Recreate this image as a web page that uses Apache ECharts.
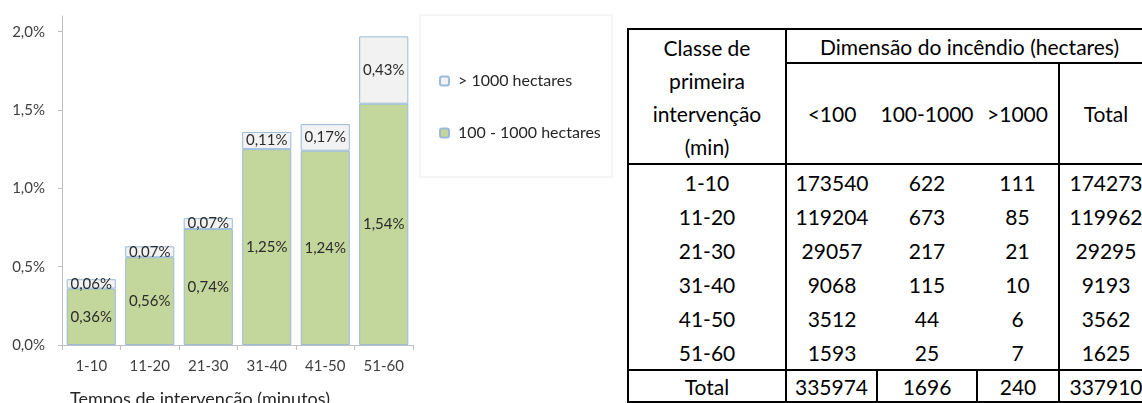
<!DOCTYPE html>
<html>
<head>
<meta charset="utf-8">
<script src="https://cdn.jsdelivr.net/npm/echarts@6/dist/echarts.min.js"></script>
<style>
  html, body { margin: 0; padding: 0; background: #fff; overflow: hidden; }
  #chart { position: absolute; left: 0; top: 0; width: 620px; height: 403px; }
  #tbl {
    position: absolute; left: 627px; top: 28px; width: 525px;
    border-collapse: collapse; table-layout: fixed;
    font-family: Lato, "Open Sans", sans-serif; font-size: 21px; color: #000;
  }
  #tbl td { padding: 0; text-align: center; vertical-align: middle; white-space: nowrap; overflow: hidden; }
  #tbl .h1 td { height: 32px; }
  #tbl .h2 td { height: 99px; }
  #tbl .d td { height: 34px; }
  #tbl .t td { height: 30px; border: 2px solid #000; }
  #tbl .bl { border-left: 2px solid #000; }
  #tbl .br { border-right: 2px solid #000; }
  #tbl .bt { border-top: 2px solid #000; }
  #tbl .bb { border-bottom: 2px solid #000; }
</style>
</head>
<body>
<div id="chart"></div>
<table id="tbl"></table>
<script>
// chart data (percent of fires)
var categories = ['1-10', '11-20', '21-30', '31-40', '41-50', '51-60'];
var pct100to1000 = [0.36, 0.56, 0.74, 1.25, 1.24, 1.54];
var pctOver1000 = [0.06, 0.07, 0.07, 0.11, 0.17, 0.43];
var yTicks = [0, 0.5, 1, 1.5, 2];

// table data
var colHeads = ['<100', '100-1000', '>1000', 'Total'];
var countUnder100 = [173540, 119204, 29057, 9068, 3512, 1593];
var count100to1000 = [622, 673, 217, 115, 44, 25];
var countOver1000 = [111, 85, 21, 10, 6, 7];
var countTotal = [174273, 119962, 29295, 9193, 3562, 1625];
var totalRow = [335974, 1696, 240, 337910];

function pct(v, d) {
	return v.toFixed(d).replace('.', ',') + '%';
}

var myChart = echarts.init(document.getElementById('chart'));

var font = 'Lato';
var option = {
	textStyle: { fontFamily: font },
	animation: false,
	title: {
		text: 'Tempos de intervenção (minutos)',
		left: 65,
		top: 385,
		textStyle: { fontFamily: font, fontSize: 18, fontWeight: 'normal', color: '#262626' }
	},
	graphic: [{
		type: 'rect',
		shape: { x: 420, y: 15, width: 192, height: 162 },
		style: { fill: '#fff', stroke: '#ececec', lineWidth: 1 },
		z: -1
	}],
	legend: {
		orient: 'vertical',
		left: 434,
		top: 68,
		itemWidth: 9,
		itemHeight: 9,
		itemGap: 36,
		data: ['> 1000 hectares', '100 - 1000 hectares'],
		textStyle: { fontFamily: font, fontSize: 16, color: '#262626', padding: [0, 0, 0, 4] }
	},
	grid: { left: 62, right: 207, top: 16, bottom: 58 },
	xAxis: {
		type: 'category',
		data: categories,
		axisLine: { lineStyle: { color: '#bfbfbf' } },
		axisTick: { show: true, length: 5, lineStyle: { color: '#bfbfbf' } },
		axisLabel: { fontSize: 15, color: '#404040', margin: 14 }
	},
	yAxis: {
		type: 'value',
		min: 0,
		max: 2.1,
		axisLine: { show: true, lineStyle: { color: '#bfbfbf' } },
		axisTick: { show: true, length: 4, customValues: yTicks, lineStyle: { color: '#bfbfbf' } },
		splitLine: { show: false },
		axisLabel: {
			customValues: yTicks,
			fontSize: 15,
			color: '#404040',
			margin: 17,
			formatter: function (v) { return pct(v, 1); }
		}
	},
	series: [{
		name: '100 - 1000 hectares',
		type: 'bar',
		stack: 'a',
		barCategoryGap: '16%',
		data: pct100to1000,
		itemStyle: { color: '#c3d69b', borderColor: '#9bbbd9', borderWidth: 1 },
		label: {
			show: true, position: 'inside', fontSize: 15, color: '#2b2b2b',
			formatter: function (p) { return pct(p.value, 2); }
		}
	}, {
		name: '> 1000 hectares',
		type: 'bar',
		stack: 'a',
		data: pctOver1000,
		itemStyle: { color: '#f2f2f2', borderColor: '#9bbbd9', borderWidth: 1 },
		label: {
			show: true, position: 'inside', fontSize: 15, color: '#2b2b2b',
			formatter: function (p) { return pct(p.value, 2); }
		}
	}]
};

myChart.setOption(option);

// table
var widths = [158, 91, 100, 82, 94];
var html = '<colgroup>';
widths.forEach(function (w) { html += '<col style="width:' + w + 'px">'; });
html += '</colgroup>';
html += '<tr class="h1"><td rowspan="2" class="bl bt br bb" style="line-height:33px">Classe de<br>primeira<br>intervenção<br>(min)</td>' +
	'<td colspan="4" class="bt br bb">Dimensão do incêndio (hectares)</td></tr>';
html += '<tr class="h2"><td class="bb">' + colHeads[0] + '</td><td class="bb">' + colHeads[1] +
	'</td><td class="bb br">' + colHeads[2] + '</td><td class="bb br">' + colHeads[3] + '</td></tr>';
categories.forEach(function (c, i) {
	html += '<tr class="d"><td class="bl br">' + c + '</td><td>' + countUnder100[i] + '</td><td>' +
		count100to1000[i] + '</td><td class="br">' + countOver1000[i] + '</td><td class="br">' +
		countTotal[i] + '</td></tr>';
});
html += '<tr class="t"><td>Total</td>';
totalRow.forEach(function (v) { html += '<td>' + v + '</td>'; });
html += '</tr>';
document.getElementById('tbl').innerHTML = html;
</script>
</body>
</html>
